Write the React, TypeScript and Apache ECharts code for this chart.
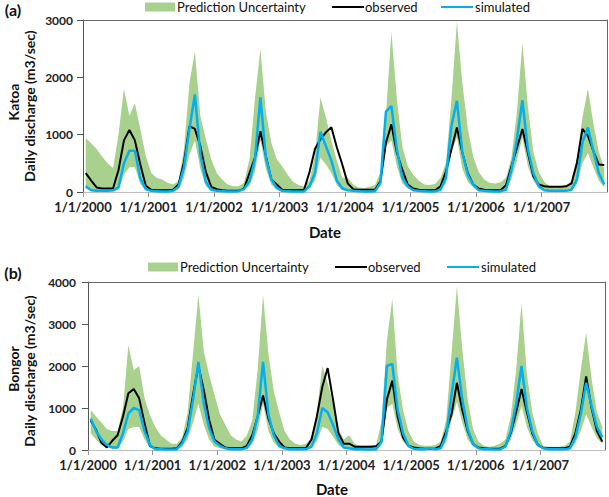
import React, { useEffect, useRef } from 'react';
import * as echarts from 'echarts';

// Monthly (mid-month) readings, Jan 2000 .. Dec 2007
const monthPositions = Array.from({ length: 96 }, (_, i) => 2000 + (i + 0.5) / 12);
const yearTicks = [2000, 2001, 2002, 2003, 2004, 2005, 2006, 2007];

// (a) Katoa
const katoaObserved = [
  330, 200, 80, 60, 60, 60, 380, 900, 1080, 900, 480, 110,
  40, 30, 30, 30, 40, 130, 520, 1150, 1100, 800, 350, 90,
  50, 30, 20, 20, 20, 60, 330, 600, 1060, 630, 220, 130,
  40, 30, 30, 30, 40, 350, 750, 920, 1040, 1130, 780, 480,
  150, 50, 40, 40, 40, 40, 190, 860, 1180, 685, 390, 130,
  60, 40, 30, 30, 30, 100, 360, 745, 1125, 685, 330, 130,
  60, 40, 30, 30, 30, 120, 450, 770, 1100, 685, 275, 130,
  100, 90, 90, 90, 100, 150, 510, 1100, 980, 715, 480, 470,
];
const katoaSimulated = [
  100, 30, 20, 20, 20, 30, 80, 500, 720, 720, 240, 50,
  20, 15, 10, 10, 20, 90, 430, 1100, 1700, 650, 180, 40,
  20, 15, 10, 10, 15, 50, 190, 570, 1650, 600, 220, 70,
  20, 15, 10, 10, 10, 100, 330, 1050, 800, 550, 200, 60,
  30, 20, 15, 10, 10, 15, 160, 1400, 1500, 745, 250, 100,
  30, 20, 15, 10, 10, 40, 250, 1150, 1590, 685, 300, 130,
  30, 20, 15, 10, 10, 40, 390, 920, 1600, 745, 330, 100,
  30, 20, 20, 20, 20, 40, 220, 860, 1125, 715, 330, 130,
];
const katoaUpper = [
  940, 850, 750, 620, 500, 420, 1000, 1800, 1330, 1550, 1100, 630,
  330, 250, 220, 160, 130, 190, 750, 1900, 2450, 1330, 920, 570,
  330, 220, 130, 100, 100, 160, 570, 1620, 2500, 1400, 860, 570,
  450, 300, 180, 120, 100, 200, 650, 1650, 1300, 900, 550, 250,
  250, 130, 80, 70, 90, 120, 350, 1330, 2800, 1620, 800, 450,
  300, 200, 130, 120, 140, 250, 510, 1620, 2970, 1900, 1100, 615,
  350, 220, 160, 150, 170, 250, 600, 1400, 2600, 1500, 700, 350,
  180, 100, 80, 90, 100, 200, 600, 1300, 1800, 1200, 700, 400,
];
const katoaLower = [
  60, 20, 10, 10, 10, 15, 40, 300, 430, 430, 140, 30,
  10, 10, 5, 5, 10, 50, 250, 650, 900, 400, 100, 20,
  10, 10, 5, 5, 10, 30, 110, 340, 900, 400, 130, 40,
  10, 10, 5, 5, 5, 60, 200, 600, 480, 330, 120, 35,
  20, 10, 10, 5, 5, 10, 100, 800, 900, 450, 150, 60,
  20, 10, 10, 5, 5, 25, 150, 700, 950, 400, 180, 80,
  20, 10, 10, 5, 5, 25, 230, 550, 950, 450, 200, 60,
  20, 10, 10, 10, 10, 25, 130, 500, 680, 430, 200, 80,
];

// (b) Bongor
const bongorObserved = [
  700, 480, 170, 60, 220, 350, 800, 1350, 1450, 1230, 640, 100,
  40, 30, 30, 30, 40, 200, 520, 1310, 2000, 1430, 715, 240,
  150, 60, 40, 40, 40, 100, 350, 800, 1300, 755, 400, 200,
  60, 40, 40, 40, 50, 250, 800, 1500, 1950, 1200, 400, 150,
  150, 80, 80, 80, 80, 90, 200, 1200, 1650, 800, 300, 100,
  60, 40, 30, 30, 30, 100, 450, 850, 1600, 950, 450, 150,
  60, 40, 30, 30, 30, 100, 400, 900, 1450, 900, 400, 130,
  50, 40, 40, 40, 40, 80, 400, 950, 1750, 1000, 450, 200,
];
const bongorSimulated = [
  750, 450, 250, 120, 60, 60, 400, 870, 1000, 950, 450, 120,
  20, 15, 10, 10, 20, 160, 440, 1190, 2100, 1110, 520, 200,
  100, 40, 20, 15, 15, 50, 250, 800, 2100, 850, 350, 100,
  40, 20, 15, 15, 20, 80, 400, 1000, 900, 600, 250, 60,
  40, 20, 15, 10, 10, 15, 200, 2000, 2050, 950, 400, 100,
  30, 20, 15, 40, 15, 40, 350, 1300, 2200, 1200, 500, 150,
  40, 20, 15, 10, 15, 80, 450, 1100, 2000, 1000, 450, 130,
  40, 20, 15, 15, 15, 40, 300, 850, 1600, 1050, 550, 300,
];
const bongorUpper = [
  950, 800, 650, 500, 450, 450, 1000, 2500, 1900, 2000, 1230, 835,
  550, 350, 250, 150, 150, 300, 900, 2300, 3700, 2350, 1790, 1310,
  850, 600, 350, 250, 200, 350, 700, 1900, 3700, 2300, 1400, 900,
  450, 250, 150, 120, 150, 300, 900, 2000, 1600, 1100, 500, 250,
  350, 150, 100, 100, 100, 120, 680, 2600, 3600, 1800, 950, 450,
  200, 120, 100, 100, 120, 200, 700, 2300, 3900, 2400, 1200, 500,
  200, 100, 80, 100, 150, 250, 800, 1900, 3500, 1800, 900, 400,
  100, 80, 80, 80, 100, 200, 900, 1900, 2800, 1700, 900, 550,
];
const bongorLower = [
  400, 250, 120, 60, 30, 30, 200, 500, 550, 550, 250, 50,
  10, 10, 5, 5, 10, 80, 250, 650, 1100, 600, 250, 80,
  40, 20, 10, 10, 10, 30, 130, 450, 1100, 450, 180, 50,
  20, 10, 10, 10, 10, 40, 200, 550, 500, 320, 120, 30,
  20, 10, 10, 5, 5, 10, 100, 1000, 1100, 500, 200, 50,
  15, 10, 10, 10, 10, 20, 180, 700, 1150, 650, 250, 80,
  20, 10, 10, 5, 10, 40, 240, 600, 1050, 550, 230, 70,
  20, 10, 10, 10, 10, 20, 150, 450, 850, 550, 280, 150,
];

const GREEN = '#a9d18e';
const BLUE = '#00b0f0';
const FONT = 'Lato';

const pairs = (arr: number[]) => monthPositions.map((x, i) => [x, arr[i]]);

function mkX(gridIndex: number, position: string, main: boolean) {
  return {
    type: 'value',
    gridIndex,
    position,
    min: yearTicks[0],
    max: yearTicks[yearTicks.length - 1] + 1,
    interval: 1,
    axisLine: { show: true, onZero: false, lineStyle: { color: main ? '#bfbfbf' : '#666', width: 1 } },
    axisTick: { show: main, length: 5, lineStyle: { color: '#999' } },
    axisLabel: {
      show: main,
      showMaxLabel: false,
      formatter: (v: number) => '1/1/' + v,
      fontFamily: FONT,
      fontWeight: 'bold',
      fontSize: 13,
      color: '#222',
      margin: 8,
    },
    splitLine: { show: false },
  };
}

function mkY(gridIndex: number, max: number, position: string, main: boolean, margin: number) {
  return {
    type: 'value',
    gridIndex,
    position,
    min: 0,
    max,
    interval: 1000,
    axisLine: { show: true, onZero: false, lineStyle: { color: main ? '#555' : '#666', width: 1 } },
    axisTick: { show: main, length: 6, lineStyle: { color: '#555' } },
    axisLabel: {
      show: main,
      formatter: (v: number) => String(v),
      fontFamily: FONT,
      fontWeight: 'bold',
      fontSize: 12,
      color: '#222',
      margin,
    },
    splitLine: { show: false },
  };
}

function mkSeries(idx: number, obs: number[], sim: number[], up: number[], low: number[]) {
  const xi = idx * 2;
  const yi = idx * 2;
  const bandRows = monthPositions.map((x, i) => [x, low[i], up[i]]);
  return [
    {
      name: 'Prediction Uncertainty',
      type: 'custom',
      xAxisIndex: xi,
      yAxisIndex: yi,
      data: bandRows,
      encode: { x: 0, y: [1, 2] },
      clip: true,
      z: 1,
      renderItem: (params: any, api: any) => {
        if (params.dataIndex !== 0) return null;
        const top = bandRows.map((r) => api.coord([r[0], r[2]]));
        const bottom = bandRows.map((r) => api.coord([r[0], r[1]])).reverse();
        return {
          type: 'polygon',
          shape: { points: top.concat(bottom) },
          style: { fill: GREEN },
        };
      },
    },
    {
      name: 'observed',
      type: 'line',
      xAxisIndex: xi,
      yAxisIndex: yi,
      data: pairs(obs),
      showSymbol: false,
      symbol: 'none',
      lineStyle: { color: '#000', width: 2 },
      z: 3,
    },
    {
      name: 'simulated',
      type: 'line',
      xAxisIndex: xi,
      yAxisIndex: yi,
      data: pairs(sim),
      showSymbol: false,
      symbol: 'none',
      lineStyle: { color: BLUE, width: 2.5 },
      z: 4,
    },
  ];
}

function legendGraphics(y: number, rectX: number, obsX: number, simX: number) {
  const ts = { fontFamily: FONT, fontSize: 13, fill: '#111', verticalAlign: 'middle' };
  return [
    { type: 'rect', shape: { x: rectX, y: y - 4.5, width: 30, height: 9 }, style: { fill: GREEN } },
    { type: 'text', x: rectX + 32, y, style: { ...ts, text: 'Prediction Uncertainty' } },
    { type: 'line', shape: { x1: obsX, y1: y, x2: obsX + 32, y2: y }, style: { stroke: '#000', lineWidth: 2 } },
    { type: 'text', x: obsX + 33, y, style: { ...ts, text: 'observed' } },
    { type: 'line', shape: { x1: simX, y1: y, x2: simX + 32, y2: y }, style: { stroke: BLUE, lineWidth: 2 } },
    { type: 'text', x: simX + 34, y, style: { ...ts, text: 'simulated' } },
  ];
}

function vText(text: string, x: number, y: number) {
  return {
    type: 'text',
    x,
    y,
    rotation: Math.PI / 2,
    style: {
      text,
      fontFamily: FONT,
      fontWeight: 'bold',
      fontSize: 14,
      fill: '#111',
      align: 'center',
      verticalAlign: 'middle',
    },
  };
}

function hText(text: string, x: number, y: number, size: number) {
  return {
    type: 'text',
    x,
    y,
    style: {
      text,
      fontFamily: FONT,
      fontWeight: 'bold',
      fontSize: size,
      fill: '#111',
      align: 'center',
      verticalAlign: 'middle',
    },
  };
}

export default function App() {
  const ref = useRef<HTMLDivElement>(null);
  useEffect(() => {
    if (!ref.current) return;
    const chart = echarts.init(ref.current, undefined, { renderer: 'svg' });
    const option = {
      animation: false,
      textStyle: { fontFamily: FONT },
      grid: [
        { left: 83, right: 2, top: 20, height: 172 },
        { left: 88, right: 4, top: 282, height: 168 },
      ],
      xAxis: [mkX(0, 'bottom', true), mkX(0, 'top', false), mkX(1, 'bottom', true), mkX(1, 'top', false)],
      yAxis: [
        mkY(0, 3000, 'left', true, 10),
        mkY(0, 3000, 'right', false, 10),
        mkY(1, 4000, 'left', true, 12),
        mkY(1, 4000, 'right', false, 12),
      ],
      series: [
        ...mkSeries(0, katoaObserved, katoaSimulated, katoaUpper, katoaLower),
        ...mkSeries(1, bongorObserved, bongorSimulated, bongorUpper, bongorLower),
      ],
      graphic: [
        hText('(a)', 13, 9, 16),
        hText('(b)', 13, 272, 16),
        ...legendGraphics(7, 145, 332, 441),
        ...legendGraphics(267, 148, 335, 447),
        vText('Katoa', 13, 102),
        vText('Daily discharge (m3/sec)', 29, 106),
        vText('Bongor', 13, 369),
        vText('Daily discharge (m3/sec)', 29, 371),
        hText('Date', 325, 232, 15),
        hText('Date', 332, 489, 15),
      ],
    };
    chart.setOption(option as any);
    return () => chart.dispose();
  }, []);
  return <div ref={ref} style={{ position: 'absolute', left: 0, top: 0, width: 609, height: 497 }} />;
}
